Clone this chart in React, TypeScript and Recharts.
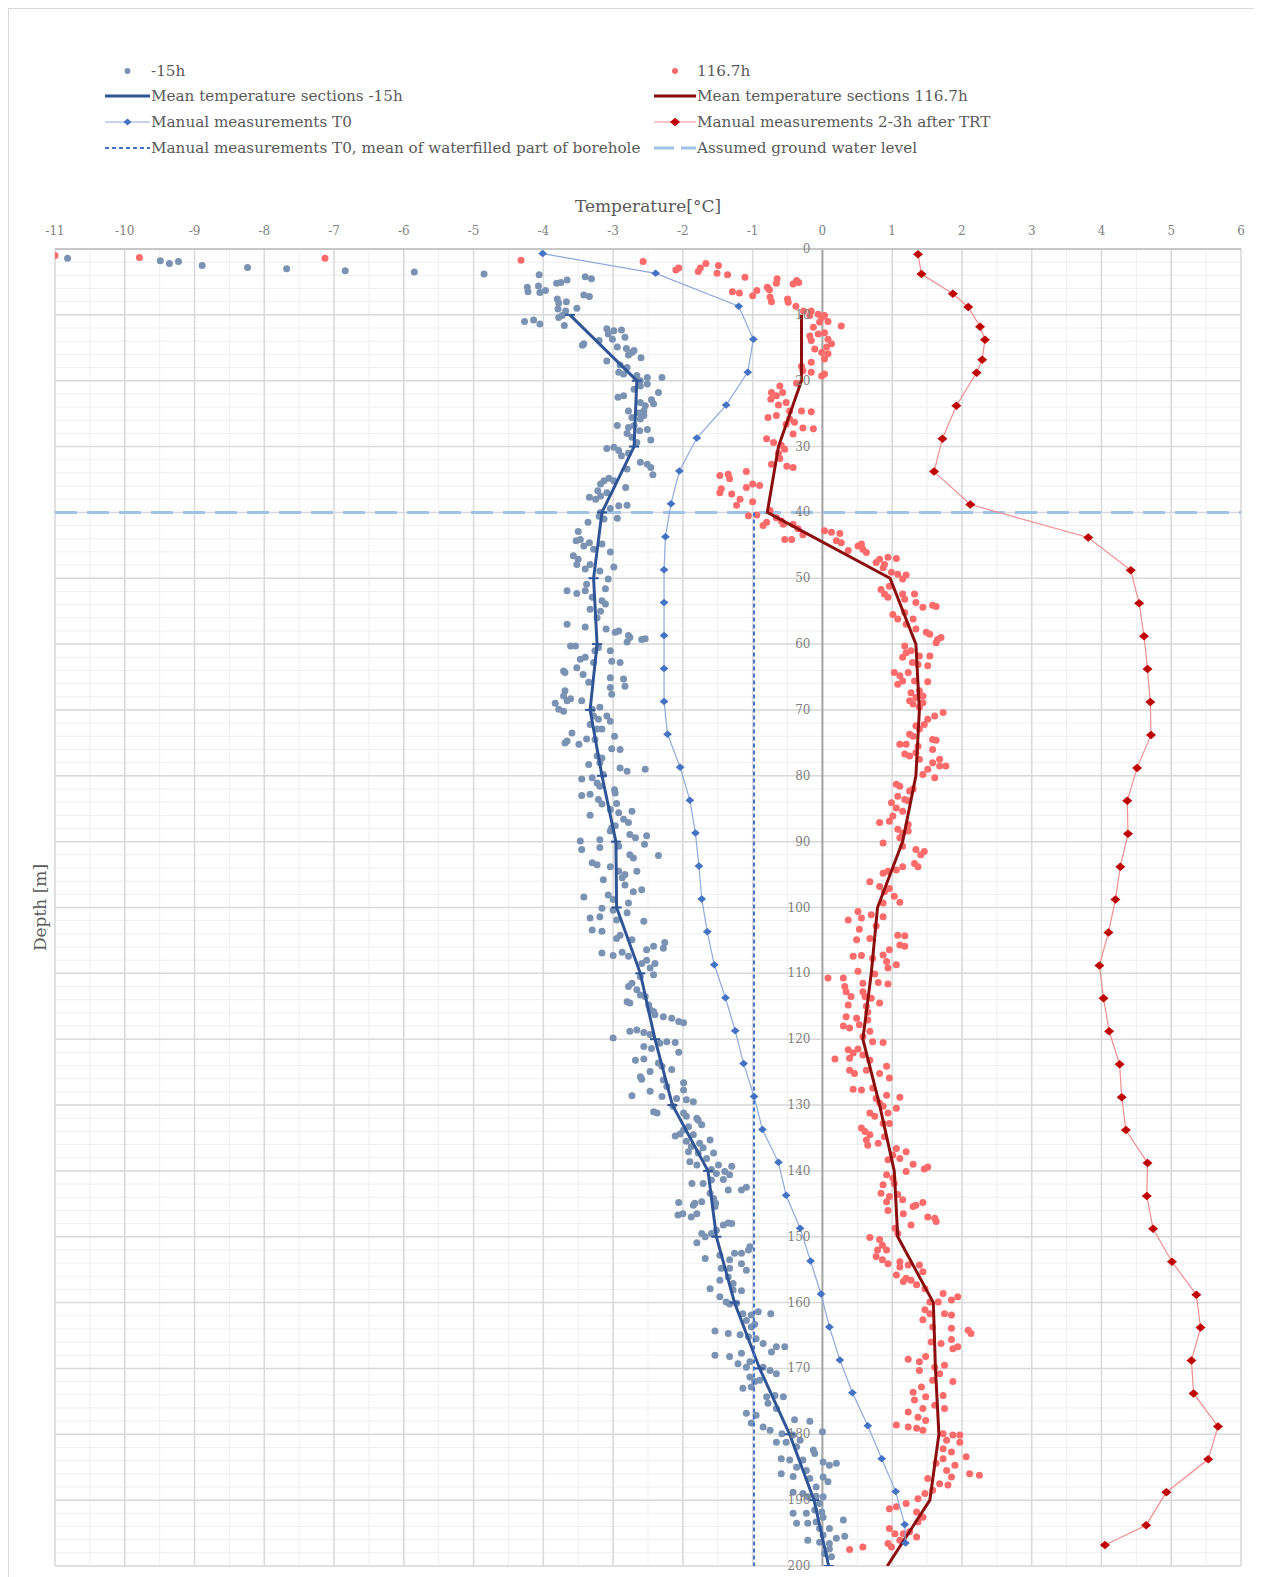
import {
  CartesianGrid,
  ReferenceLine,
  Scatter,
  ScatterChart,
  XAxis,
  YAxis,
} from "recharts";

// ---------------------------------------------------------------------------
// Data: depth [m] / temperature [°C]
// ---------------------------------------------------------------------------

// Fibre readings 15 h before the test, [depth, temperature]
const READINGS_MINUS_15H: [number, number][] = [
  [1.4, -10.82], [1.8, -9.49], [2.2, -9.36], [1.9, -9.23], [2.5, -8.89], [2.8, -8.24], [3.0, -7.68], [3.3, -6.84], [3.5, -5.85], [3.8, -4.85],
  [3.9, -4.06], [5.8, -4.23], [6.5, -4.22], [5.6, -4.07], [6.6, -4.05], [6.3, -3.97], [5.2, -3.81], [5.1, -3.75], [4.7, -3.66], [4.2, -3.4],
  [4.5, -3.31], [7.0, -3.42], [7.2, -3.34], [7.6, -3.8], [8.2, -3.78], [8.0, -3.67], [9.0, -3.52], [9.1, -3.79], [9.4, -3.68], [10.1, -3.73],
  [11.0, -4.27], [10.8, -4.14], [11.4, -4.05], [11.6, -3.7], [10.4, -3.78], [12.1, -3.09], [12.4, -2.99], [12.9, -3.07], [12.3, -2.88], [13.4, -2.83],
  [13.7, -3.01], [14.4, -3.42], [14.6, -3.44], [13.9, -3.2], [14.9, -2.94], [15.1, -2.81], [15.7, -2.73], [15.4, -2.7], [16.1, -2.78], [16.5, -2.6],
  [17.0, -3.09], [17.6, -2.9], [18.0, -2.8], [18.7, -2.92], [19.0, -2.85], [19.2, -2.66], [20.0, -2.61], [19.5, -2.51], [19.5, -2.3], [20.8, -2.61],
  [20.5, -2.51], [21.3, -2.7], [21.8, -2.35], [22.9, -2.45], [23.5, -2.42], [22.5, -2.93], [22.3, -2.85], [23.3, -2.61], [23.8, -2.54], [24.6, -2.78],
  [24.9, -2.63], [24.6, -2.56], [25.6, -2.73], [25.8, -2.61], [25.3, -2.56], [26.8, -2.94], [27.1, -2.78], [26.8, -2.7], [27.6, -2.62], [27.4, -2.51],
  [29.0, -2.46], [28.0, -2.8], [28.6, -2.73], [29.4, -2.66], [30.3, -3.09], [30.1, -2.99], [30.6, -2.92], [31.0, -2.78], [31.4, -2.88], [32.4, -2.61],
  [32.7, -2.51], [33.2, -2.46], [34.3, -2.43], [33.4, -2.8], [34.8, -3.06], [35.2, -3.13], [35.2, -2.99], [35.7, -3.18], [36.2, -2.82], [36.7, -3.22],
  [37.7, -3.34], [37.5, -3.18], [37.0, -3.09], [38.0, -3.25], [39.0, -2.92], [38.9, -2.8], [39.4, -3.04], [40.0, -3.18], [40.6, -3.2], [41.0, -3.13],
  [41.5, -3.36], [40.9, -2.94],
  [42.9, -3.5], [44.1, -3.47], [44.3, -3.53], [44.6, -3.34], [45.1, -3.42], [45.6, -3.28], [44.8, -3.16], [46.0, -3.04], [46.6, -3.57], [47.1, -3.5],
  [47.9, -3.52], [47.9, -3.33], [48.6, -3.4], [48.9, -3.19], [48.3, -2.99], [50.1, -3.07], [50.9, -3.38], [51.9, -3.66], [52.3, -3.52], [51.9, -3.4],
  [51.6, -3.11], [52.9, -3.3], [53.4, -3.16], [53.9, -3.11], [54.7, -3.33], [55.0, -3.18], [56.0, -3.23], [57.0, -3.66], [57.4, -3.4], [57.7, -3.1],
  [58.2, -2.97], [58.0, -2.92], [58.7, -2.78], [59.0, -2.76], [59.3, -2.59], [59.2, -2.54], [59.7, -2.8], [60.3, -3.61], [60.3, -3.54], [61.0, -3.26],
  [60.5, -3.21], [61.0, -3.04], [62.0, -3.4], [62.3, -3.47], [62.8, -3.28], [62.6, -3.02], [62.8, -2.9], [63.6, -3.52], [64.1, -3.71], [64.3, -3.69],
  [64.6, -3.43], [65.8, -3.35], [65.1, -3.04], [65.3, -2.85], [66.4, -2.83], [66.6, -3.04], [67.6, -3.02], [67.1, -3.69], [67.9, -3.71], [68.3, -3.61],
  [68.6, -3.66], [69.0, -3.83], [69.9, -3.78], [70.2, -3.71], [68.6, -3.45], [69.9, -3.3], [69.6, -3.19], [70.9, -3.28], [71.4, -3.21], [70.9, -3.09],
  [71.7, -3.04], [72.2, -3.33], [72.9, -3.23], [72.9, -3.16], [74.7, -3.66], [73.5, -3.59], [75.0, -3.69], [75.2, -3.49], [74.4, -3.38], [74.5, -3.26],
  [74.0, -2.98], [75.9, -3.02], [76.0, -2.9], [77.0, -3.23], [77.3, -3.16], [78.0, -3.19], [78.3, -3.35], [78.8, -2.9], [79.3, -2.8], [79.0, -2.54],
  [79.8, -3.14], [80.3, -3.3], [80.5, -3.45], [81.1, -3.23], [81.6, -3.19], [82.1, -2.98], [83.0, -3.45], [82.8, -3.33], [82.6, -2.97], [83.6, -3.21],
  [84.3, -3.16], [84.2, -2.95], [86.0, -3.33], [85.1, -3.04], [85.6, -2.92], [85.4, -2.73], [86.6, -2.85], [87.1, -2.78], [87.9, -3.02], [88.4, -3.04],
  [87.6, -2.97], [88.9, -2.76], [89.4, -2.68], [89.1, -2.52], [89.9, -3.47], [89.7, -3.19], [91.2, -3.45], [90.9, -3.19], [90.7, -2.92], [90.4, -2.55],
  [92.1, -2.35],
  [93.2, -3.3], [93.5, -3.23], [93.8, -3.04], [92.0, -2.76], [92.5, -2.71], [94.5, -2.92], [95.0, -2.83], [95.5, -2.87], [94.5, -2.66], [95.8, -3.14],
  [96.6, -2.83], [97.3, -2.59], [97.6, -2.71], [98.4, -3.42], [98.1, -3.07], [98.8, -3.0], [99.3, -2.78], [100.1, -3.16], [100.4, -3.0], [100.8, -2.8],
  [101.6, -3.33], [101.4, -3.19], [103.4, -3.3], [103.6, -3.16], [101.9, -2.95], [104.2, -2.9], [104.7, -2.95], [104.9, -2.73], [102.1, -2.56], [106.9, -3.16],
  [107.3, -3.0], [106.8, -2.87], [107.4, -2.78], [106.4, -2.52], [105.9, -2.42], [106.2, -2.28], [105.3, -2.26], [108.5, -2.59], [108.0, -2.52], [108.5, -2.4],
  [109.2, -2.47], [110.2, -2.42], [110.5, -2.61], [112.0, -2.78], [111.5, -2.73], [112.5, -2.66], [113.3, -2.61], [113.5, -2.54], [114.3, -2.8], [114.5, -2.76],
  [114.8, -2.49], [115.8, -2.42], [115.5, -2.47], [116.3, -2.4], [116.6, -2.28], [116.8, -2.16], [117.3, -2.06], [117.5, -1.99], [119.8, -3.0], [118.8, -2.76],
  [118.6, -2.66], [119.0, -2.56], [119.3, -2.47], [121.1, -2.56], [121.4, -2.45], [120.6, -2.33], [120.4, -2.23], [120.5, -2.11], [122.0, -2.06], [123.2, -2.68],
  [123.0, -2.56], [123.6, -2.35], [124.1, -2.3], [124.6, -2.16], [124.9, -2.47], [125.7, -2.61], [126.1, -2.59], [126.2, -2.28], [127.2, -2.23], [126.6, -1.99],
  [127.7, -1.99], [128.6, -2.73], [127.9, -2.47], [128.7, -2.3], [129.0, -2.09], [129.2, -1.95], [129.5, -1.85], [131.0, -2.42], [131.2, -2.37], [130.2, -2.14],
  [131.2, -1.99], [131.7, -1.95], [132.0, -1.8], [132.3, -1.78], [133.3, -1.92], [133.0, -1.73], [133.8, -1.99], [134.4, -2.04], [134.7, -2.11], [134.5, -1.85],
  [135.5, -1.95], [136.3, -1.88], [135.8, -1.76], [135.3, -1.61], [136.5, -1.71], [137.1, -1.92], [137.3, -1.78], [137.3, -1.56], [138.1, -1.66], [138.6, -1.9],
  [139.1, -1.8], [139.1, -1.49], [139.3, -1.3], [139.8, -1.59], [140.4, -1.52], [140.1, -1.4], [140.6, -1.33], [141.9, -1.87], [141.9, -1.71], [141.4, -1.59],
  [141.3, -1.42], [142.9, -1.35], [143.4, -1.61], [142.9, -1.16], [142.5, -1.09], [144.8, -2.06], [144.9, -1.83], [144.7, -1.73], [144.2, -1.56],
  [146.7, -2.07], [146.5, -2.0], [147.0, -1.88], [146.5, -1.8], [145.2, -1.85], [145.4, -1.54], [144.9, -1.53], [150.9, -1.8], [149.5, -1.73], [150.0, -1.68],
  [149.5, -1.59], [149.0, -1.52], [148.2, -1.42], [147.9, -1.35], [148.0, -1.3], [153.3, -1.68], [152.8, -1.47], [153.5, -1.33], [152.5, -1.26], [152.5, -1.16],
  [152.0, -1.06], [151.5, -1.04], [154.1, -1.16], [154.8, -1.45], [154.8, -1.33], [155.1, -1.09], [156.6, -1.47], [156.1, -1.35], [157.1, -1.28], [157.9, -1.61],
  [158.1, -1.28], [158.2, -1.16], [159.1, -1.47], [159.9, -1.38], [160.2, -1.33], [160.1, -1.23], [161.7, -1.14], [161.9, -1.02], [161.4, -0.92], [161.7, -0.74],
  [162.7, -1.09], [163.3, -0.97], [163.7, -1.02], [164.3, -1.54], [164.7, -1.35], [164.9, -1.18], [165.2, -1.06], [165.5, -0.95], [166.2, -0.85], [166.7, -0.66],
  [167.5, -0.73], [166.7, -0.54], [168.0, -1.54], [168.2, -1.33], [167.7, -1.16], [169.3, -1.21], [169.0, -1.04], [169.8, -1.09], [169.8, -0.85], [170.3, -0.75],
  [170.8, -0.66], [171.3, -1.04], [172.0, -0.97], [171.8, -0.9], [173.0, -1.14], [172.8, -1.02], [174.3, -0.8], [174.1, -0.68], [174.3, -0.56], [175.3, -0.78],
  [176.1, -0.66], [176.8, -1.09], [177.1, -0.95], [178.3, -1.02], [178.9, -0.85], [179.4, -0.75], [177.8, -0.4], [178.0, -0.18], [179.9, -0.58], [180.1, -0.42],
  [181.2, -0.66], [181.2, -0.52], [180.9, -0.32], [181.9, -0.37], [182.4, -0.13], [182.9, -0.11], [179.6, 0.0], [183.7, -0.59], [183.9, -0.47], [183.9, -0.28],
  [185.0, -0.37], [185.5, -0.23], [184.2, 0.01], [184.7, 0.1], [184.4, 0.2], [186.0, -0.59], [186.4, -0.42], [186.7, -0.18], [186.5, 0.01], [187.2, 0.08],
  [188.0, -0.09], [188.8, -0.42], [189.0, -0.28], [189.5, -0.21], [189.4, -0.09], [189.5, 0.01], [190.5, -0.04], [192.0, -0.42], [192.0, -0.23], [191.5, -0.11],
  [191.8, -0.01], [192.6, 0.01], [193.5, -0.37], [193.5, -0.21], [193.3, -0.09], [193.0, 0.3], [194.3, -0.04], [194.3, 0.1], [195.3, 0.01], [196.1, -0.21],
  [196.4, -0.04], [196.6, 0.1], [195.8, 0.2], [195.5, 0.32], [197.4, 0.1], [198.1, 0.03], [198.6, 0.13],
];

// Fibre readings 116.7 h into the test, [depth, temperature]
const READINGS_116_7H: [number, number][] = [
  [1.0, -11.0], [1.3, -9.79], [1.4, -7.13], [1.7, -4.32], [1.9, -2.57],
  [3.2, -2.1], [2.9, -2.06], [3.4, -1.78], [2.9, -1.75], [2.2, -1.67], [2.5, -1.49], [3.7, -1.51], [3.9, -1.36], [4.3, -1.11], [6.5, -1.29],
  [6.7, -1.19], [7.1, -1.0], [6.3, -0.94], [5.8, -0.79], [6.2, -0.76], [4.5, -0.65], [5.2, -0.66], [5.3, -0.42], [4.8, -0.37], [5.1, -0.34],
  [7.3, -0.75], [8.0, -0.73], [7.6, -0.5], [8.1, -0.49], [8.7, -0.38], [9.4, -0.27], [9.4, -0.16], [10.1, -0.18], [9.9, -0.06], [10.4, -0.01],
  [10.1, 0.03], [11.1, -0.04], [11.0, 0.08], [11.7, 0.27], [11.9, -0.13], [13.2, -0.18], [12.9, -0.06], [12.7, 0.03], [13.7, 0.08], [14.4, 0.13],
  [14.9, 0.06], [13.9, -0.16], [15.2, -0.11], [15.7, -0.01], [15.9, 0.08], [16.7, 0.03], [17.2, -0.16], [17.8, -0.3], [18.5, -0.28], [18.7, -0.16],
  [19.0, 0.03], [19.3, -0.01], [20.4, -0.37], [20.8, -0.61], [21.8, -0.73], [22.3, -0.66], [22.8, -0.74], [21.8, -0.57], [23.3, -0.52], [23.7, -0.63],
  [24.6, -0.47], [24.6, -0.3], [24.7, -0.16], [25.6, -0.78], [25.3, -0.66], [25.8, -0.47], [26.6, -0.52], [26.3, -0.4], [27.2, -0.28], [27.3, -0.13],
  [28.1, -0.42], [28.8, -0.8], [29.4, -0.7], [29.8, -0.59], [30.4, -0.54], [31.0, -0.63], [31.8, -0.61], [32.7, -0.73], [33.0, -0.51], [33.2, -0.42],
  [34.4, -1.47], [34.2, -1.35], [34.9, -1.33], [36.4, -1.45], [37.0, -1.47], [37.2, -1.3], [38.0, -1.18], [38.9, -1.23], [33.8, -1.09], [35.7, -1.0],
  [36.2, -1.09], [35.9, -0.9], [38.4, -1.0], [40.5, -1.06], [40.4, -0.94], [39.7, -0.75], [41.5, -0.8], [42.0, -0.85], [41.3, -0.59], [41.8, -0.42],
  [40.8, -0.66], [41.8, -0.56], [44.1, -0.54], [44.1, -0.44], [43.4, -0.28], [42.5, -0.35], [42.8, 0.03], [43.0, 0.13], [43.2, 0.25], [44.3, 0.2],
  [44.6, 0.27], [45.8, 0.37], [45.1, 0.51], [44.8, 0.56], [45.6, 0.58], [46.1, 0.63], [47.6, 0.77], [47.1, 0.82], [48.4, 0.87], [46.8, 0.94],
  [47.0, 1.06], [47.9, 0.89], [49.1, 0.99], [49.4, 1.08], [50.1, 1.15], [49.5, 1.2], [51.7, 0.84], [52.4, 0.89], [51.2, 0.96], [52.9, 0.94],
  [52.4, 1.15], [53.2, 1.18], [52.4, 1.32], [53.7, 1.34], [54.4, 1.44], [54.1, 1.58], [54.3, 1.63], [55.5, 1.01], [56.2, 1.08], [55.2, 1.18],
  [57.0, 1.2], [56.2, 1.3], [57.7, 1.34], [58.2, 1.49], [58.5, 1.54], [59.3, 1.65], [59.0, 1.7], [59.8, 1.63], [60.3, 1.18], [61.3, 1.2],
  [61.0, 1.27], [62.0, 1.15], [61.8, 1.39], [61.8, 1.54], [62.8, 1.29], [63.1, 1.37], [63.3, 1.51], [64.3, 1.03], [64.8, 1.11], [64.3, 1.23],
  [65.6, 1.15], [66.1, 1.08], [65.6, 1.32], [65.7, 1.51], [67.1, 1.39], [67.4, 1.27], [68.1, 1.34], [67.9, 1.44], [68.6, 1.25], [69.1, 1.3],
  [69.6, 1.39], [68.9, 1.44], [70.4, 1.73], [70.9, 1.61], [71.4, 1.51], [72.2, 1.46], [72.4, 1.34], [72.9, 1.39], [73.7, 1.25], [74.0, 1.3],
  [74.5, 1.58], [74.6, 1.63], [75.2, 1.11], [75.2, 1.2], [75.5, 1.37], [76.0, 1.58], [76.7, 1.18], [77.0, 1.25], [76.5, 1.34], [77.5, 1.39],
  [77.5, 1.68], [78.0, 1.58], [78.5, 1.68], [78.5, 1.77], [79.0, 1.51], [79.8, 1.44], [80.3, 1.61], [81.3, 1.06], [81.6, 1.11], [82.3, 1.25],
  [82.0, 1.3], [83.1, 1.08], [83.6, 1.18], [84.1, 0.99], [84.9, 1.06], [85.4, 1.15], [83.8, 1.23], [86.1, 1.01], [87.1, 0.82], [86.9, 0.96],
  [87.4, 1.23], [88.1, 1.08], [88.7, 1.15], [88.4, 1.23], [90.2, 0.87], [89.4, 1.11], [90.7, 1.15], [91.2, 1.34], [91.5, 1.46], [92.0, 1.41],
  [93.3, 1.32], [93.8, 1.37], [93.8, 1.15], [94.8, 0.87], [94.5, 0.94], [94.3, 1.06], [96.1, 0.68], [96.8, 0.82], [97.6, 0.89], [97.1, 0.96],
  [98.3, 1.03], [99.2, 1.11], [99.3, 0.87], [100.6, 0.51], [101.9, 0.37], [101.6, 0.56], [101.1, 0.7], [101.4, 0.87], [103.3, 0.53], [102.8, 0.77],
  [104.7, 0.68], [104.9, 0.49], [104.2, 1.08], [104.3, 1.18], [105.7, 1.11], [105.9, 1.18], [106.4, 0.96], [107.2, 0.87], [107.4, 0.44], [107.3, 0.56],
  [107.7, 0.72], [108.2, 0.92], [108.7, 1.06], [109.2, 0.94], [109.7, 0.51], [110.1, 0.75], [110.7, 0.08], [110.7, 0.3], [112.0, 0.32], [111.5, 0.58],
  [111.4, 0.8], [111.6, 0.94], [112.8, 0.34], [113.5, 0.41], [112.8, 0.58], [113.5, 0.61], [113.8, 0.7], [114.8, 0.37], [115.0, 0.63], [115.9, 0.65],
  [114.5, 0.82], [116.8, 0.49], [116.6, 0.34], [117.1, 0.65], [118.0, 0.3], [118.3, 0.39], [117.8, 0.53], [118.8, 0.68], [119.6, 0.58], [120.4, 0.72],
  [120.5, 0.87], [121.6, 0.37], [121.5, 0.51], [122.1, 0.44], [123.0, 0.18], [122.9, 0.39], [122.4, 0.58], [123.2, 0.68], [124.1, 0.92], [124.7, 0.39],
  [125.2, 0.46], [124.7, 0.63], [125.2, 0.82], [125.9, 0.96], [127.6, 0.44], [127.7, 0.56], [127.4, 0.72], [128.5, 0.92], [128.8, 1.11], [129.0, 0.77],
  [129.7, 0.82], [130.2, 0.87], [130.5, 1.06], [131.2, 0.68], [131.7, 0.75], [131.2, 0.94], [132.8, 0.96], [132.8, 0.87], [133.5, 0.56], [134.0, 0.61],
  [134.5, 0.68], [135.3, 0.63], [136.1, 0.65], [135.8, 0.8], [134.8, 0.89], [136.6, 1.06], [137.1, 1.2], [137.6, 1.01], [138.1, 1.11], [138.3, 0.94],
  [139.0, 1.3], [139.4, 1.51], [139.7, 1.46], [140.1, 1.2], [140.6, 0.92], [141.1, 1.01], [141.9, 1.03], [142.1, 0.87], [143.4, 0.84], [143.9, 0.96],
  [143.6, 1.08], [144.4, 1.15], [144.8, 1.44], [145.2, 1.34],
  [144.7, 0.92], [146.0, 0.94], [146.5, 1.16], [145.4, 1.3], [147.0, 1.51], [147.2, 1.61], [147.7, 1.63], [148.2, 1.27], [148.7, 1.04], [149.5, 1.08],
  [150.1, 0.68], [150.4, 0.82], [151.3, 0.86], [152.0, 0.79], [152.0, 0.92], [153.0, 0.77], [153.5, 0.86], [154.1, 0.94], [153.8, 1.11], [154.6, 1.11],
  [154.3, 1.23], [154.3, 1.39], [155.3, 1.44], [155.8, 1.06], [156.3, 1.2], [156.6, 1.27], [157.3, 1.35], [157.9, 1.47], [156.8, 1.16], [158.6, 1.73],
  [159.6, 1.85], [159.1, 1.94], [159.9, 1.54], [159.9, 1.66], [161.1, 1.47], [161.7, 1.54], [161.7, 1.75], [161.9, 1.85], [162.6, 1.44], [163.7, 1.58],
  [163.9, 1.85], [164.2, 2.09], [164.7, 2.13], [166.0, 1.56], [166.2, 1.7], [165.6, 1.85], [167.0, 1.87], [166.7, 1.94], [168.6, 1.23], [169.0, 1.39],
  [168.2, 1.48], [169.8, 1.61], [169.5, 1.75], [170.3, 1.39], [170.8, 1.68], [171.8, 1.58], [172.0, 1.87], [173.6, 1.3], [172.8, 1.42], [174.3, 1.48],
  [174.1, 1.73], [174.8, 1.32], [176.1, 1.44], [175.6, 1.61], [176.1, 1.75], [176.6, 1.23], [177.4, 1.37], [177.9, 1.48], [178.6, 1.06], [178.9, 1.23],
  [179.1, 1.35], [179.4, 1.44], [179.9, 1.73], [180.1, 1.87], [180.1, 1.97], [180.9, 1.78], [181.2, 1.97], [182.2, 1.73], [182.7, 1.85], [183.4, 2.06],
  [183.7, 1.73], [184.7, 1.9], [184.4, 1.63], [185.5, 1.78], [186.0, 2.11], [186.2, 2.25], [186.5, 1.85], [186.7, 1.51], [187.5, 1.68], [187.7, 1.8],
  [188.5, 1.58], [189.0, 1.47], [189.8, 1.37], [190.5, 1.2], [191.3, 0.96], [191.0, 1.06], [191.8, 1.35], [192.6, 1.44], [193.3, 1.37], [194.3, 0.96],
  [195.1, 1.04], [195.1, 1.16], [194.8, 1.25], [195.6, 1.35], [196.6, 0.94], [196.1, 1.11], [197.5, 0.39], [197.1, 0.58], [197.1, 0.99],
];

// 10 m section means
const SECTION_DEPTHS = [10, 20, 30, 40, 50, 60, 70, 80, 90, 100, 110, 120, 130, 140, 150, 160, 170, 180, 190, 200];
const SECTION_MEAN_MINUS_15H = [-3.62, -2.66, -2.7, -3.16, -3.28, -3.23, -3.33, -3.16, -2.96, -2.95, -2.61, -2.4, -2.15, -1.64, -1.52, -1.26, -0.9, -0.47, -0.12, 0.09];
const SECTION_MEAN_116_7H = [-0.3, -0.3, -0.63, -0.79, 0.97, 1.34, 1.39, 1.34, 1.15, 0.79, 0.7, 0.58, 0.82, 1.03, 1.08, 1.59, 1.62, 1.67, 1.54, 0.93];

// Manual probe T0
const T0_DEPTHS = [0.7, 3.7, 8.7, 13.7, 18.7, 23.7, 28.7, 33.7, 38.7, 43.7, 48.7, 53.7, 58.7, 63.7, 68.7, 73.7, 78.7, 83.7, 88.7, 93.7, 98.7, 103.7, 108.7, 113.7, 118.7, 123.7, 128.7, 133.7, 138.7, 143.7, 148.7, 153.7, 158.7, 163.7, 168.7, 173.7, 178.7, 183.7, 188.7, 193.7, 196.5];
const T0_TEMPS = [-4.01, -2.39, -1.2, -0.99, -1.07, -1.38, -1.8, -2.05, -2.17, -2.25, -2.27, -2.27, -2.27, -2.27, -2.27, -2.22, -2.04, -1.9, -1.82, -1.77, -1.73, -1.65, -1.55, -1.39, -1.25, -1.13, -0.98, -0.86, -0.63, -0.52, -0.32, -0.17, -0.02, 0.1, 0.25, 0.43, 0.65, 0.85, 1.05, 1.18, 1.19];

// Manual probe 2-3 h after TRT
const TRT_DEPTHS = [0.8, 3.8, 6.8, 8.8, 11.8, 13.8, 16.8, 18.8, 23.8, 28.8, 33.8, 38.8, 43.8, 48.8, 53.8, 58.8, 63.8, 68.8, 73.8, 78.8, 83.8, 88.8, 93.8, 98.8, 103.8, 108.8, 113.8, 118.8, 123.8, 128.8, 133.8, 138.8, 143.8, 148.8, 153.8, 158.8, 163.8, 168.8, 173.8, 178.8, 183.8, 188.8, 193.8, 196.8];
const TRT_TEMPS = [1.37, 1.42, 1.87, 2.09, 2.26, 2.33, 2.29, 2.21, 1.92, 1.72, 1.6, 2.12, 3.81, 4.42, 4.54, 4.61, 4.66, 4.7, 4.71, 4.51, 4.37, 4.38, 4.27, 4.2, 4.1, 3.97, 4.03, 4.11, 4.26, 4.29, 4.35, 4.66, 4.65, 4.74, 5.01, 5.36, 5.42, 5.29, 5.32, 5.67, 5.53, 4.93, 4.64, 4.05];

// Mean of the water filled part (T0) and the assumed water table
const T0_WATER_MEAN = -0.98;
const T0_WATER_SPAN = [40, 200];
const GROUND_WATER_LEVEL = 40;

const X_TICKS = [-11, -10, -9, -8, -7, -6, -5, -4, -3, -2, -1, 0, 1, 2, 3, 4, 5, 6];
const Y_TICKS = [0, 10, 20, 30, 40, 50, 60, 70, 80, 90, 100, 110, 120, 130, 140, 150, 160, 170, 180, 190, 200];

// ---------------------------------------------------------------------------
// Layout / styles
// ---------------------------------------------------------------------------

const FONT = '"DejaVu Serif", serif';
const TEXT = "#595959";
const TICK_TEXT = "#7f7f7f";

const COLORS = {
  dots15h: "#7b93b3",
  dots116h: "#ff6a6a",
  mean15h: "#2f5597",
  mean116h: "#8b0d0d",
  manualT0: "#4472c4",
  manualT0Line: "#8eaadb",
  manualTrt: "#c00000",
  manualTrtLine: "#ef8f8f",
  groundWater: "#9dc3e6",
};

const CHART_W = 1253;
const CHART_H = 1568;
const MARGIN = { top: 180, right: 21, bottom: 11, left: 0 };
const Y_AXIS_W = 46;
const X_AXIS_H = 60;
const X_MIN = -11;
const X_MAX = 6;
const PLOT_W = CHART_W - MARGIN.left - MARGIN.right - Y_AXIS_W;
// depth labels sit on the 0 °C line, like an axis crossing at zero
const ZERO_X = MARGIN.left + Y_AXIS_W + ((0 - X_MIN) / (X_MAX - X_MIN)) * PLOT_W;

function range(start: number, stop: number, step: number) {
  const out: number[] = [];
  for (let v = start; v <= stop + 1e-9; v += step) out.push(Math.round(v * 100) / 100);
  return out;
}

const MINOR_X = range(X_MIN, X_MAX, 0.5);
const MINOR_Y = range(0, 200, 2);

const toPoints = (pairs: [number, number][]) => pairs.map(([d, t]) => ({ d, t }));
const zipPoints = (depths: number[], temps: number[]) => depths.map((d, i) => ({ d, t: temps[i] }));

const dots15h = toPoints(READINGS_MINUS_15H);
const dots116h = toPoints(READINGS_116_7H);
const mean15h = zipPoints(SECTION_DEPTHS, SECTION_MEAN_MINUS_15H);
const mean116h = zipPoints(SECTION_DEPTHS, SECTION_MEAN_116_7H);
const manualT0 = zipPoints(T0_DEPTHS, T0_TEMPS);
const manualTrt = zipPoints(TRT_DEPTHS, TRT_TEMPS);
const waterMean = T0_WATER_SPAN.map((d) => ({ d, t: T0_WATER_MEAN }));

// ---------------------------------------------------------------------------
// Shapes
// ---------------------------------------------------------------------------

function Dot(props: any) {
  const { cx, cy, fill } = props;
  if (cx == null || cy == null) return <g />;
  return <circle cx={cx} cy={cy} r={3.5} fill={fill} />;
}

function Diamond(props: any) {
  const { cx, cy, fill, half = 4.5 } = props;
  if (cx == null || cy == null) return <g />;
  return (
    <polygon
      points={`${cx - half},${cy} ${cx},${cy - half * 0.85} ${cx + half},${cy} ${cx},${cy + half * 0.85}`}
      fill={fill}
    />
  );
}

function SectionDash(props: any) {
  const { cx, cy } = props;
  if (cx == null || cy == null) return <g />;
  return <line x1={cx - 5} x2={cx + 5} y1={cy} y2={cy} stroke={COLORS.mean15h} strokeWidth={2} />;
}

const NoMarker = () => <g />;

function DepthTick(props: any) {
  const { y, payload } = props;
  return (
    <text x={ZERO_X - 12} y={y} dy={4} textAnchor="end" fontSize={12} fill={TICK_TEXT} fontFamily={FONT}>
      {payload.value}
    </text>
  );
}

function TemperatureTitle(props: any) {
  const vb = props.viewBox ?? { x: Y_AXIS_W, y: MARGIN.top, width: PLOT_W, height: X_AXIS_H };
  return (
    <text x={vb.x + vb.width / 2} y={vb.y + 23} textAnchor="middle" fontSize={17} fill={TEXT} fontFamily={FONT}>
      Temperature[°C]
    </text>
  );
}

function DepthTitle(props: any) {
  const vb = props.viewBox ?? { x: 0, y: MARGIN.top + X_AXIS_H, width: Y_AXIS_W, height: CHART_H - MARGIN.top - X_AXIS_H - MARGIN.bottom };
  const x = vb.x + 37;
  const y = vb.y + vb.height / 2;
  return (
    <text x={x} y={y} transform={`rotate(-90, ${x}, ${y})`} textAnchor="middle" fontSize={17} fill={TEXT} fontFamily={FONT}>
      Depth [m]
    </text>
  );
}

// ---------------------------------------------------------------------------
// Legend
// ---------------------------------------------------------------------------

type LegendKind = "dot15" | "mean15" | "t0" | "t0water" | "dot116" | "mean116" | "trt" | "groundwater";

const LEGEND_LEFT: { kind: LegendKind; label: string }[] = [
  { kind: "dot15", label: "-15h" },
  { kind: "mean15", label: "Mean temperature sections -15h" },
  { kind: "t0", label: "Manual measurements T0" },
  { kind: "t0water", label: "Manual measurements T0, mean of waterfilled part of borehole" },
];

const LEGEND_RIGHT: { kind: LegendKind; label: string }[] = [
  { kind: "dot116", label: "116.7h" },
  { kind: "mean116", label: "Mean temperature sections 116.7h" },
  { kind: "trt", label: "Manual measurements 2-3h after TRT" },
  { kind: "groundwater", label: "Assumed ground water level" },
];

const LEGEND_ROWS = [61.5, 87, 113, 138.7];

function LegendIcon({ kind, width }: { kind: LegendKind; width: number }) {
  const m = width / 2;
  let body: any = null;
  switch (kind) {
    case "dot15":
      body = <circle cx={m} cy={10} r={3} fill={COLORS.dots15h} />;
      break;
    case "dot116":
      body = <circle cx={m} cy={10} r={3} fill={COLORS.dots116h} />;
      break;
    case "mean15":
      body = <line x1={0} x2={width} y1={10} y2={10} stroke={COLORS.mean15h} strokeWidth={3} />;
      break;
    case "mean116":
      body = <line x1={0} x2={width} y1={10} y2={10} stroke={COLORS.mean116h} strokeWidth={3} />;
      break;
    case "t0":
      body = (
        <>
          <line x1={0} x2={width} y1={10} y2={10} stroke={COLORS.manualT0Line} strokeWidth={1.2} />
          <Diamond cx={m} cy={10} half={4} fill={COLORS.manualT0} />
        </>
      );
      break;
    case "trt":
      body = (
        <>
          <line x1={0} x2={width} y1={10} y2={10} stroke={COLORS.manualTrtLine} strokeWidth={1.2} />
          <Diamond cx={m} cy={10} half={5} fill={COLORS.manualTrt} />
        </>
      );
      break;
    case "t0water":
      body = <line x1={0} x2={width} y1={10} y2={10} stroke={COLORS.manualT0} strokeWidth={2} strokeDasharray="4 3" />;
      break;
    case "groundwater":
      body = <line x1={0} x2={width} y1={10} y2={10} stroke={COLORS.groundWater} strokeWidth={3} strokeDasharray="20 7" />;
      break;
  }
  return (
    <svg width={width} height={20} style={{ display: "block" }}>
      {body}
    </svg>
  );
}

function LegendColumn({ items, left, iconWidth }: { items: { kind: LegendKind; label: string }[]; left: number; iconWidth: number }) {
  return (
    <>
      {items.map((item, i) => (
        <div
          key={item.kind}
          style={{
            position: "absolute",
            left,
            top: LEGEND_ROWS[i] - 10,
            height: 20,
            display: "flex",
            alignItems: "center",
            whiteSpace: "nowrap",
            fontFamily: FONT,
            fontSize: 15.2,
            color: TEXT,
          }}
        >
          <LegendIcon kind={item.kind} width={iconWidth} />
          <span style={{ marginLeft: 1, lineHeight: "20px" }}>{item.label}</span>
        </div>
      ))}
    </>
  );
}

// ---------------------------------------------------------------------------
// Chart
// ---------------------------------------------------------------------------

export default function App() {
  return (
    <div
      style={{
        position: "relative",
        width: 1254,
        height: 1569,
        boxSizing: "border-box",
        borderTop: "1px solid #d9d9d9",
        borderLeft: "1px solid #d9d9d9",
        background: "#fff",
      }}
    >
      <style>{"html, body { overflow: hidden; background: #fff; }"}</style>
      <LegendColumn items={LEGEND_LEFT} left={96} iconWidth={45} />
      <LegendColumn items={LEGEND_RIGHT} left={645} iconWidth={42} />
      <div style={{ position: "absolute", left: 0, top: 0 }}>
        <ScatterChart width={CHART_W} height={CHART_H} margin={MARGIN}>
          <CartesianGrid verticalValues={MINOR_X} horizontalValues={MINOR_Y} stroke="#efefef" />
          <CartesianGrid verticalValues={X_TICKS} horizontalValues={Y_TICKS} stroke="#d9d9d9" strokeWidth={1.5} />
          <XAxis
            type="number"
            dataKey="t"
            orientation="top"
            domain={[X_MIN, X_MAX]}
            ticks={X_TICKS}
            interval={0}
            allowDataOverflow
            height={X_AXIS_H}
            tickLine={false}
            tickMargin={8}
            axisLine={{ stroke: "#bfbfbf", strokeWidth: 1.5 }}
            tick={{ fontSize: 12, fill: TICK_TEXT, fontFamily: FONT }}
            label={<TemperatureTitle />}
          />
          <YAxis
            type="number"
            dataKey="d"
            domain={[0, 200]}
            reversed
            ticks={Y_TICKS}
            interval={0}
            allowDataOverflow
            width={Y_AXIS_W}
            axisLine={false}
            tickLine={false}
            tick={<DepthTick />}
            label={<DepthTitle />}
          />
          <ReferenceLine x={0} stroke="#a6a6a6" strokeWidth={2} />

          <Scatter name="-15h" data={dots15h} fill={COLORS.dots15h} shape={<Dot />} isAnimationActive={false} />
          <Scatter name="116.7h" data={dots116h} fill={COLORS.dots116h} shape={<Dot />} isAnimationActive={false} />

          <Scatter
            name="Mean temperature sections -15h"
            data={mean15h}
            fill={COLORS.mean15h}
            line={{ stroke: COLORS.mean15h, strokeWidth: 3 }}
            shape={<SectionDash />}
            isAnimationActive={false}
          />
          <Scatter
            name="Mean temperature sections 116.7h"
            data={mean116h}
            fill={COLORS.mean116h}
            line={{ stroke: COLORS.mean116h, strokeWidth: 3 }}
            shape={<NoMarker />}
            isAnimationActive={false}
          />

          <Scatter
            name="Manual measurements T0"
            data={manualT0}
            fill={COLORS.manualT0}
            line={{ stroke: COLORS.manualT0Line, strokeWidth: 1.2 }}
            shape={<Diamond half={4.4} />}
            isAnimationActive={false}
          />
          <Scatter
            name="Manual measurements 2-3h after TRT"
            data={manualTrt}
            fill={COLORS.manualTrt}
            line={{ stroke: COLORS.manualTrtLine, strokeWidth: 1.2 }}
            shape={<Diamond half={5} />}
            isAnimationActive={false}
          />

          <Scatter
            name="Manual measurements T0, mean of waterfilled part of borehole"
            data={waterMean}
            fill={COLORS.manualT0}
            line={{ stroke: COLORS.manualT0, strokeWidth: 2, strokeDasharray: "4 3" }}
            shape={<NoMarker />}
            isAnimationActive={false}
          />
          <ReferenceLine
            y={GROUND_WATER_LEVEL}
            stroke={COLORS.groundWater}
            strokeWidth={3}
            strokeDasharray="22 10"
          />
        </ScatterChart>
      </div>
    </div>
  );
}
